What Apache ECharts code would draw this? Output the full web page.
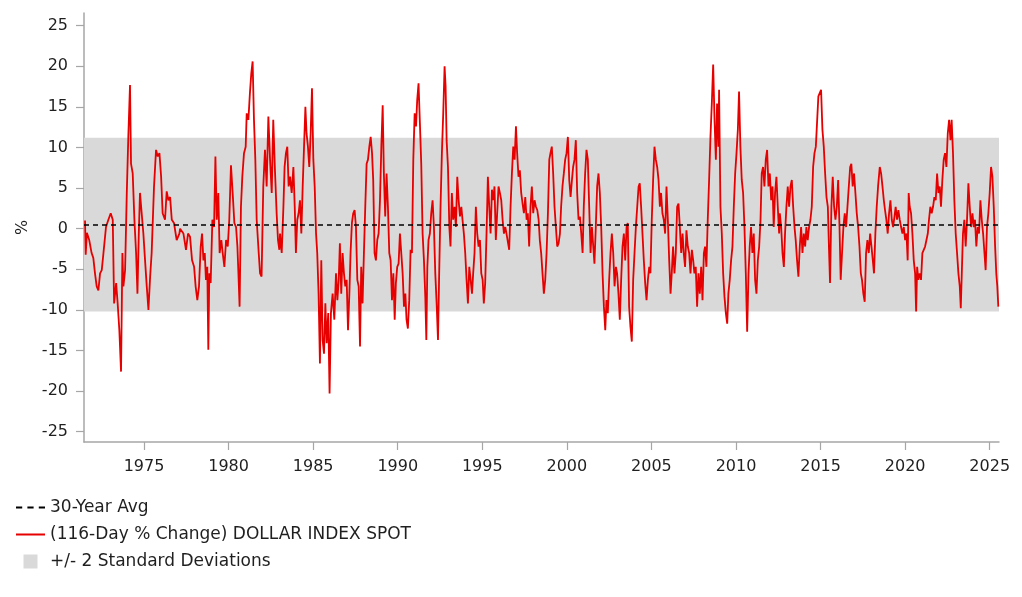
<!DOCTYPE html>
<html>
<head>
<meta charset="utf-8">
<script src="https://cdn.jsdelivr.net/npm/echarts@6/dist/echarts.min.js"></script>
<style>
html,body{margin:0;padding:0;background:#fff;}
#chart{width:1022px;height:597px;}
</style>
</head>
<body>
<div id="chart"></div>
<script>
// ---- Data (decimal year, % change) ----
const dxy1971_1977 = [[1971.51,1.0],[1971.55,-3.2],[1971.62,-0.5],[1971.76,-1.4],[1971.90,-3.0],[1972.00,-3.6],[1972.10,-5.5],[1972.20,-7.1],[1972.30,-7.6],[1972.40,-5.5],[1972.50,-5.1],[1972.60,-3.0],[1972.75,0.2],[1972.89,1.1],[1973.03,1.9],[1973.15,1.1],[1973.23,-9.2],[1973.35,-6.7],[1973.44,-9.2],[1973.54,-12.5],[1973.64,-17.6],[1973.72,-3.0],[1973.78,-7.1],[1973.88,-5.1],[1973.98,4.4],[1974.07,11.3],[1974.17,17.7],[1974.23,8.0],[1974.33,6.8],[1974.43,1.1],[1974.53,-3.0],[1974.61,-8.0],[1974.69,-0.6],[1974.76,4.4],[1974.86,4.6],[1974.96,-0.6],[1975.06,-3.9],[1975.16,-7.1],[1975.26,-10.0],[1975.36,-5.9],[1975.45,-3.0],[1975.59,5.2],[1975.71,9.7],[1975.81,8.9],[1975.91,9.3],[1976.01,6.4],[1976.10,1.9],[1976.24,1.1],[1976.34,4.6],[1976.44,3.5],[1976.54,3.9],[1976.64,1.1],[1976.77,0.7],[1976.93,-1.4],[1977.09,-0.6]];
const dxy1977_1983 = [[1977.13,0.0],[1977.33,-0.6],[1977.48,-2.6],[1977.60,-0.6],[1977.72,-1.0],[1977.84,-3.9],[1977.96,-4.7],[1978.05,-7.1],[1978.15,-8.8],[1978.25,-7.1],[1978.35,-2.2],[1978.43,-0.6],[1978.51,-3.9],[1978.59,-3.0],[1978.66,-6.3],[1978.74,-4.7],[1978.80,-14.9],[1978.86,-5.5],[1978.94,-6.7],[1979.04,1.1],[1979.14,0.2],[1979.22,8.9],[1979.30,1.1],[1979.39,4.4],[1979.47,-3.0],[1979.57,-1.4],[1979.65,-3.0],[1979.75,-4.7],[1979.85,-1.4],[1979.95,-2.2],[1980.04,1.1],[1980.14,7.8],[1980.24,4.4],[1980.34,0.7],[1980.44,0.2],[1980.52,-2.2],[1980.58,-5.5],[1980.65,-9.6],[1980.73,2.7],[1980.81,6.4],[1980.91,9.3],[1981.01,10.1],[1981.07,14.2],[1981.17,13.4],[1981.26,16.7],[1981.34,19.1],[1981.42,20.6],[1981.50,13.4],[1981.58,8.5],[1981.66,1.1],[1981.78,-3.0],[1981.86,-5.5],[1981.95,-5.9],[1982.05,5.2],[1982.15,9.7],[1982.25,5.2],[1982.35,13.8],[1982.45,8.5],[1982.55,4.4],[1982.64,13.4],[1982.74,7.2],[1982.84,1.9],[1982.92,-1.4],[1983.00,-2.6]];
const dxy1983_1989 = [[1983.04,-0.6],[1983.14,-3.0],[1983.24,2.7],[1983.31,7.6],[1983.39,9.3],[1983.47,10.1],[1983.55,5.2],[1983.63,6.4],[1983.73,4.4],[1983.83,7.6],[1983.91,2.7],[1983.98,-3.0],[1984.06,1.1],[1984.14,1.9],[1984.22,3.5],[1984.30,-0.6],[1984.38,5.2],[1984.46,10.1],[1984.54,15.0],[1984.61,11.7],[1984.69,10.1],[1984.77,7.6],[1984.85,11.7],[1984.93,17.3],[1985.01,8.5],[1985.09,5.2],[1985.17,-0.6],[1985.24,-3.0],[1985.32,-8.0],[1985.40,-16.6],[1985.48,-3.9],[1985.56,-13.7],[1985.64,-15.4],[1985.72,-9.2],[1985.80,-14.1],[1985.89,-10.4],[1985.97,-20.3],[1986.05,-10.4],[1986.15,-8.0],[1986.25,-11.2],[1986.35,-5.5],[1986.43,-8.8],[1986.51,-6.3],[1986.58,-1.8],[1986.66,-8.0],[1986.74,-3.0],[1986.82,-5.5],[1986.90,-7.1],[1986.98,-6.3],[1987.06,-12.5],[1987.14,-8.0],[1987.21,-3.0],[1987.29,0.7],[1987.37,1.9],[1987.45,2.3],[1987.53,0.2],[1987.61,-6.3],[1987.69,-7.1],[1987.77,-14.5],[1987.84,-4.7],[1987.92,-9.2],[1988.00,-3.0],[1988.08,2.7],[1988.16,8.0],[1988.24,8.5],[1988.32,10.1],[1988.40,11.3],[1988.48,9.3],[1988.55,6.0],[1988.63,-3.0],[1988.71,-3.9],[1988.79,-1.4],[1988.87,-0.6]];
const dxy1989_1995 = [[1988.95,3.5],[1989.03,10.1],[1989.11,15.2],[1989.18,6.8],[1989.26,1.5],[1989.34,6.8],[1989.42,2.7],[1989.50,-3.0],[1989.58,-3.9],[1989.66,-8.8],[1989.74,-5.5],[1989.82,-11.2],[1989.89,-6.7],[1989.97,-4.7],[1990.05,-4.3],[1990.13,-0.6],[1990.21,-0.6],[1990.29,-5.5],[1990.37,-9.6],[1990.45,-8.0],[1990.52,-11.2],[1990.60,-12.3],[1990.68,-8.8],[1990.76,-2.6],[1990.84,-3.0],[1990.92,8.5],[1991.00,14.2],[1991.08,12.6],[1991.15,15.8],[1991.23,17.9],[1991.31,13.0],[1991.39,8.0],[1991.47,-0.6],[1991.55,-3.9],[1991.63,-8.4],[1991.69,-13.7],[1991.75,-4.7],[1991.82,-1.4],[1991.90,-0.6],[1991.98,1.9],[1992.06,3.5],[1992.14,0.2],[1992.22,-5.5],[1992.30,-9.2],[1992.38,-13.7],[1992.45,-5.5],[1992.53,2.7],[1992.61,9.3],[1992.69,14.2],[1992.77,20.0],[1992.83,17.5],[1992.89,10.9],[1992.97,7.6],[1993.05,0.2],[1993.12,-2.2],[1993.20,4.4],[1993.28,1.1],[1993.36,2.7],[1993.44,0.2],[1993.52,6.4],[1993.60,3.5],[1993.68,1.5],[1993.76,2.7],[1993.83,1.1],[1993.91,-0.6],[1993.99,-3.0],[1994.07,-6.3],[1994.15,-9.2],[1994.23,-4.7],[1994.31,-6.3],[1994.39,-8.0],[1994.46,-5.5],[1994.54,-3.0],[1994.62,2.7],[1994.70,-0.6],[1994.78,-2.2]];
const dxy1995_2001 = [[1994.86,-1.4],[1994.94,-5.5],[1995.02,-6.3],[1995.09,-9.2],[1995.17,-6.7],[1995.25,-0.6],[1995.33,6.4],[1995.41,2.7],[1995.49,-0.6],[1995.57,4.8],[1995.65,3.5],[1995.72,5.2],[1995.80,-1.4],[1995.88,1.9],[1995.96,5.2],[1996.04,4.4],[1996.12,3.5],[1996.20,1.1],[1996.28,-0.6],[1996.36,0.2],[1996.43,-0.6],[1996.51,-0.6],[1996.59,-2.6],[1996.67,2.7],[1996.75,6.8],[1996.83,10.1],[1996.91,8.5],[1996.99,12.6],[1997.06,9.3],[1997.14,6.4],[1997.22,7.2],[1997.30,4.4],[1997.38,3.1],[1997.46,1.9],[1997.54,3.9],[1997.62,1.1],[1997.69,1.9],[1997.77,-2.2],[1997.85,2.7],[1997.93,5.2],[1998.01,1.9],[1998.09,3.5],[1998.17,2.7],[1998.25,2.3],[1998.33,1.1],[1998.40,-1.4],[1998.48,-3.0],[1998.56,-5.5],[1998.64,-8.0],[1998.72,-6.3],[1998.80,-3.0],[1998.88,1.9],[1998.96,8.5],[1999.03,9.3],[1999.11,10.1],[1999.19,6.8],[1999.27,2.7],[1999.35,0.2],[1999.43,-2.2],[1999.51,-1.8],[1999.59,-0.6],[1999.66,2.7],[1999.74,5.2],[1999.82,6.8],[1999.90,8.5],[1999.98,9.3],[2000.06,11.3],[2000.14,6.0],[2000.22,3.9],[2000.30,6.0],[2000.37,7.6],[2000.45,8.5],[2000.53,10.9],[2000.61,4.4],[2000.69,1.1]];
const dxy2001_2007 = [[2000.77,1.5],[2000.85,-0.6],[2000.93,-3.0],[2001.00,2.7],[2001.08,6.8],[2001.16,9.7],[2001.24,8.5],[2001.32,2.7],[2001.40,-3.0],[2001.48,0.2],[2001.56,-2.2],[2001.63,-4.3],[2001.71,0.2],[2001.79,5.2],[2001.87,6.8],[2001.95,4.4],[2002.03,0.2],[2002.11,-5.5],[2002.19,-9.6],[2002.27,-12.5],[2002.34,-8.8],[2002.42,-10.4],[2002.50,-6.3],[2002.58,-3.0],[2002.66,-0.6],[2002.74,-3.0],[2002.82,-7.1],[2002.90,-4.7],[2002.97,-5.5],[2003.05,-8.0],[2003.13,-11.2],[2003.21,-6.3],[2003.29,-2.2],[2003.37,-0.6],[2003.45,-3.9],[2003.53,0.2],[2003.60,0.7],[2003.68,-9.6],[2003.76,-12.1],[2003.84,-13.9],[2003.92,-6.3],[2004.00,-3.0],[2004.08,0.2],[2004.16,2.7],[2004.24,5.2],[2004.31,5.6],[2004.39,2.7],[2004.47,-0.6],[2004.55,-3.9],[2004.63,-6.7],[2004.71,-8.8],[2004.79,-6.3],[2004.87,-4.7],[2004.94,-5.5],[2005.02,1.1],[2005.10,6.0],[2005.18,10.1],[2005.26,8.5],[2005.34,7.6],[2005.42,6.0],[2005.50,2.7],[2005.57,4.4],[2005.65,1.9],[2005.73,1.1],[2005.81,-0.6],[2005.89,5.2],[2005.97,1.1],[2006.05,-3.9],[2006.13,-8.0],[2006.20,-5.5],[2006.28,-2.2],[2006.36,-5.5],[2006.44,-3.0],[2006.52,2.7],[2006.60,3.1]];
const dxy2007_2013 = [[2006.68,0.2],[2006.76,-3.0],[2006.84,-0.6],[2006.91,-3.0],[2006.99,-4.7],[2007.07,-0.2],[2007.15,-2.2],[2007.23,-3.0],[2007.31,-5.5],[2007.39,-2.6],[2007.47,-3.9],[2007.54,-5.5],[2007.62,-4.7],[2007.70,-9.6],[2007.78,-5.5],[2007.86,-8.0],[2007.94,-4.7],[2008.02,-8.8],[2008.10,-3.0],[2008.17,-2.2],[2008.25,-4.7],[2008.33,1.1],[2008.41,6.0],[2008.49,11.3],[2008.57,15.4],[2008.65,20.2],[2008.73,13.4],[2008.81,8.5],[2008.88,15.4],[2008.96,10.1],[2009.00,17.1],[2009.08,2.7],[2009.16,-0.6],[2009.24,-5.5],[2009.32,-8.4],[2009.40,-10.4],[2009.48,-11.7],[2009.55,-8.0],[2009.63,-6.3],[2009.71,-3.9],[2009.79,-2.2],[2009.87,2.7],[2009.95,6.8],[2010.03,9.3],[2010.11,12.2],[2010.18,16.9],[2010.26,10.1],[2010.34,6.0],[2010.42,4.4],[2010.50,0.2],[2010.58,-5.5],[2010.66,-12.7],[2010.74,-5.5],[2010.81,-2.2],[2010.89,0.2],[2010.97,-3.0],[2011.05,-0.6],[2011.13,-6.3],[2011.21,-8.0],[2011.29,-3.9],[2011.37,-2.2],[2011.45,1.1],[2011.52,6.8],[2011.60,7.6],[2011.68,5.2],[2011.76,8.5],[2011.84,9.7],[2011.92,5.2],[2012.00,6.8],[2012.08,3.5],[2012.16,5.2],[2012.23,0.2],[2012.31,4.4],[2012.39,6.4],[2012.47,2.7],[2012.55,-0.6]];
const dxy2013_2019 = [[2012.59,1.9],[2012.67,0.2],[2012.75,-3.0],[2012.83,-4.7],[2012.90,-0.6],[2012.98,2.7],[2013.06,5.2],[2013.14,2.7],[2013.22,5.2],[2013.30,6.0],[2013.38,2.7],[2013.46,0.2],[2013.53,-1.4],[2013.61,-3.9],[2013.69,-5.9],[2013.77,-2.2],[2013.85,0.2],[2013.93,-3.0],[2014.01,-0.6],[2014.09,-2.2],[2014.16,0.2],[2014.24,-1.4],[2014.32,0.2],[2014.40,1.1],[2014.48,2.7],[2014.56,7.6],[2014.64,9.3],[2014.72,10.1],[2014.80,13.4],[2014.87,16.3],[2014.95,16.5],[2015.03,17.1],[2015.11,12.2],[2015.19,10.1],[2015.27,6.8],[2015.35,3.9],[2015.43,2.7],[2015.50,-2.6],[2015.56,-6.7],[2015.64,2.7],[2015.72,6.4],[2015.80,2.7],[2015.88,1.1],[2015.96,2.7],[2016.04,6.0],[2016.12,0.2],[2016.19,-6.3],[2016.27,-3.0],[2016.35,0.2],[2016.43,1.9],[2016.51,0.2],[2016.59,2.7],[2016.67,5.2],[2016.75,7.6],[2016.82,8.0],[2016.90,5.2],[2016.98,6.8],[2017.06,4.4],[2017.14,1.9],[2017.22,0.2],[2017.30,-2.2],[2017.38,-5.5],[2017.45,-6.3],[2017.53,-8.0],[2017.61,-9.0],[2017.69,-3.0],[2017.77,-1.4],[2017.85,-3.0],[2017.93,-0.6],[2018.01,-2.2],[2018.09,-3.9],[2018.16,-5.5],[2018.24,-0.6],[2018.32,2.7],[2018.40,5.2]];
const dxy2019_2025 = [[2018.50,7.6],[2018.58,6.8],[2018.66,5.2],[2018.74,3.5],[2018.81,2.3],[2018.89,1.1],[2018.97,-0.6],[2019.05,1.9],[2019.13,3.5],[2019.21,1.1],[2019.29,0.2],[2019.37,1.5],[2019.44,2.7],[2019.52,1.1],[2019.60,2.3],[2019.68,1.1],[2019.76,0.2],[2019.84,-0.6],[2019.92,0.2],[2020.00,-1.4],[2020.08,-0.6],[2020.15,-3.9],[2020.21,4.4],[2020.27,2.7],[2020.35,1.9],[2020.43,-0.6],[2020.51,-3.9],[2020.59,-5.5],[2020.65,-10.2],[2020.71,-4.7],[2020.78,-6.3],[2020.86,-5.5],[2020.94,-6.3],[2021.02,-3.0],[2021.10,-2.6],[2021.18,-2.2],[2021.26,-1.4],[2021.34,-0.6],[2021.41,1.1],[2021.49,2.7],[2021.57,1.9],[2021.65,2.7],[2021.73,3.9],[2021.81,3.5],[2021.89,6.8],[2021.97,4.4],[2022.05,5.2],[2022.12,2.7],[2022.20,6.0],[2022.28,8.5],[2022.36,9.3],[2022.44,7.6],[2022.52,11.7],[2022.60,13.4],[2022.68,10.9],[2022.75,13.4],[2022.83,9.3],[2022.91,3.5],[2022.99,-0.6],[2023.07,-3.0],[2023.15,-5.5],[2023.23,-7.1],[2023.29,-9.8],[2023.35,-5.5],[2023.42,-0.6],[2023.50,1.1],[2023.58,-2.2],[2023.66,1.1],[2023.74,5.6],[2023.82,2.7],[2023.90,0.2],[2023.98,1.9],[2024.06,0.2],[2024.13,1.1],[2024.21,-2.2],[2024.29,0.2],[2024.37,-0.6],[2024.45,3.5],[2024.53,1.1],[2024.61,-0.6],[2024.69,-3.0],[2024.76,-5.1],[2024.84,0.2],[2024.92,1.9],[2025.00,4.4],[2025.08,7.6],[2025.16,6.4],[2025.24,2.7],[2025.32,-2.2],[2025.39,-5.5],[2025.45,-7.1],[2025.51,-9.6]];

const avg30y = 0.5;          // 30-Year Avg
const bandUpper = 11.2;      // +2 std dev
const bandLower = -10.2;     // -2 std dev

const yearTicks = [1975,1980,1985,1990,1995,2000,2005,2010,2015,2020,2025];
const valueTicks = [-25,-20,-15,-10,-5,0,5,10,15,20,25];

const seriesNames = ['30-Year Avg', '(116-Day % Change) DOLLAR INDEX SPOT', '+/- 2 Standard Deviations'];

// ---- Build ----
const dxyData = [].concat(dxy1971_1977, dxy1977_1983, dxy1983_1989, dxy1989_1995, dxy1995_2001, dxy2001_2007, dxy2007_2013, dxy2013_2019, dxy2019_2025);

const FONT = '"DejaVu Sans", "Liberation Sans", Arial, sans-serif';
const TXT = '#1f1f1f';
const AXIS = '#a6a6a6';
const RED = '#e60000';
const BAND = '#d9d9d9';

const chart = echarts.init(document.getElementById('chart'), null, {renderer: 'canvas'});
chart.setOption({
  animation: false,
  backgroundColor: '#ffffff',
  textStyle: {fontFamily: FONT},
  grid: {left: 84, right: 23, top: 13, bottom: 155, containLabel: false},
  legend: {
    orient: 'vertical', left: 11, top: 494,
    itemWidth: 29, itemHeight: 14, itemGap: 10,
    selectedMode: false,
    textStyle: {fontSize: 17, color: TXT, fontFamily: FONT},
    data: [
      {name: seriesNames[0], icon: 'path://M0,0h6v2h-6z M11,0h6v2h-6z M22,0h6v2h-6z', itemStyle: {color: '#000000'}},
      {name: seriesNames[1], icon: 'path://M0,0h29v2h-29z', itemStyle: {color: RED}},
      {name: seriesNames[2], icon: 'path://M0,0h10v10h-10z', itemStyle: {color: BAND}}
    ]
  },
  xAxis: {
    type: 'value', min: 1971.45, max: 2025.55,
    axisLine: {onZero: false, lineStyle: {color: AXIS, width: 1.5}},
    axisTick: {customValues: yearTicks, length: 8, lineStyle: {color: AXIS, width: 1.2}},
    axisLabel: {customValues: yearTicks, fontSize: 16, color: TXT, margin: 17, fontFamily: FONT,
      formatter: function (v) { return String(v); }},
    splitLine: {show: false}
  },
  yAxis: {
    type: 'value', min: -26.27, max: 26.56,
    name: '%', nameLocation: 'middle', nameGap: 53, nameRotate: 90,
    nameTextStyle: {fontSize: 16, color: TXT, fontFamily: FONT},
    axisLine: {show: true, onZero: false, lineStyle: {color: AXIS, width: 1.5}},
    axisTick: {show: true, customValues: valueTicks, length: 8, lineStyle: {color: AXIS, width: 1.2}},
    axisLabel: {customValues: valueTicks, fontSize: 16, color: TXT, margin: 16, fontFamily: FONT,
      formatter: function (v) { return String(v); }},
    splitLine: {show: false}
  },
  series: [
    {
      name: seriesNames[2], type: 'line', data: [], symbol: 'none', z: 1,
      color: BAND, lineStyle: {width: 0},
      markArea: {
        silent: true,
        itemStyle: {color: BAND},
        data: [[{yAxis: bandUpper}, {yAxis: bandLower}]]
      }
    },
    {
      name: seriesNames[1], type: 'line', data: dxyData, symbol: 'none', showSymbol: false, z: 3,
      color: RED, lineStyle: {color: RED, width: 1.8},
      sampling: null
    },
    {
      name: seriesNames[0], type: 'line', data: [], symbol: 'none', z: 4,
      color: '#000000', lineStyle: {color: '#000000', width: 1.5, type: [5, 4]},
      markLine: {
        silent: true, symbol: 'none', label: {show: false},
        lineStyle: {color: '#000000', width: 1.5, type: [5, 4]},
        data: [{yAxis: avg30y}]
      }
    }
  ]
});
</script>
</body>
</html>
